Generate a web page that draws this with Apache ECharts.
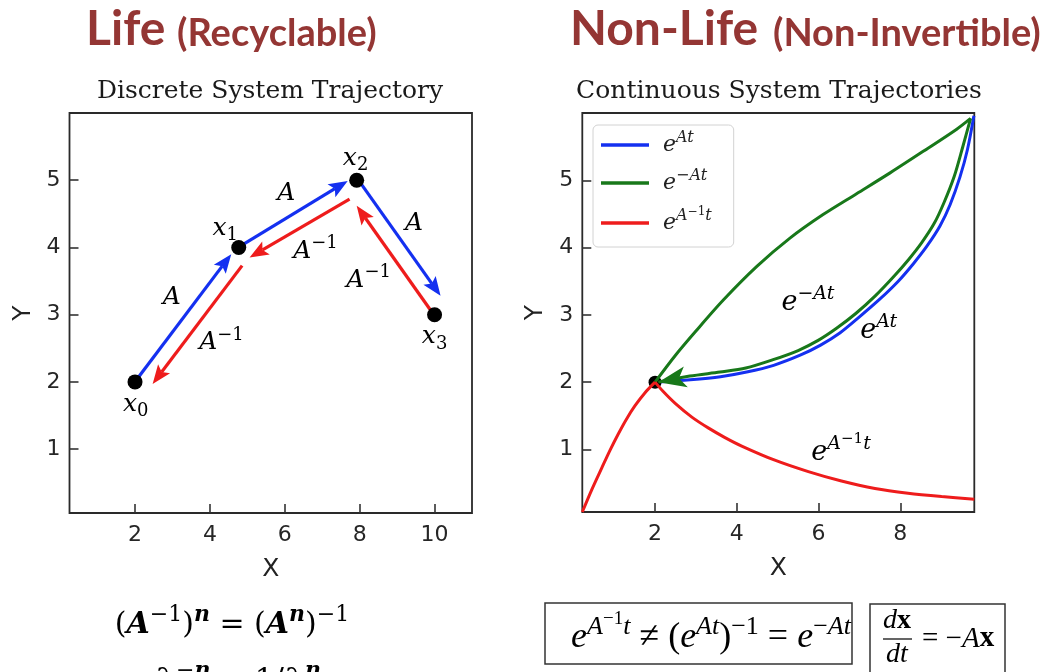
<!DOCTYPE html>
<html>
<head>
<meta charset="utf-8">
<script src="https://cdn.jsdelivr.net/npm/echarts@6/dist/echarts.min.js"></script>
<style>
  html, body { margin: 0; padding: 0; background: #fff; }
  #main { width: 1051px; height: 672px; }
</style>
</head>
<body>
<div id="main"></div>
<script>
// ---------- Discrete system: states x0..x3 ----------
const stateX = [2.0, 4.77, 7.92, 10.0];
const stateY = [2.0, 4.0, 5.0, 3.0];
// forward steps (A) and backward steps (A^-1): [fromX, fromY, toX, toY]
const forwardSteps = [
  [2.09, 2.07, 4.57, 3.90],
  [4.90, 4.05, 7.68, 4.99],
  [8.02, 4.96, 10.16, 3.28]
];
const backwardSteps = [
  [4.86, 3.73, 2.47, 1.97],
  [7.73, 4.72, 5.06, 3.85],
  [9.89, 3.07, 7.92, 4.62]
];
// annotation anchors on the discrete plot
const discreteLabelX = [2.98, 4.31, 6.04, 6.82, 9.45, 8.24, 2.02, 4.41, 7.89, 10.0];
const discreteLabelY = [3.26, 2.58, 4.80, 3.94, 4.35, 3.51, 1.66, 4.28, 5.32, 2.67];
const discreteLabelText = [
  '{i|A}', '{i|A}{su|−1}', '{i|A}', '{i|A}{su|−1}', '{i|A}', '{i|A}{su|−1}',
  '{i|x}{sub|0}', '{i|x}{sub|1}', '{i|x}{sub|2}', '{i|x}{sub|3}'
];
const discreteLabelColor = ['#2c3a85', '#262626', '#2c3a85', '#262626', '#2c3a85', '#262626',
  '#111', '#111', '#111', '#111'];

// ---------- Continuous system trajectories ----------
const expAtX = [2.0, 2.86, 3.6, 4.24, 4.9, 5.55, 6.05, 6.52, 7.0, 7.51, 7.95, 8.32, 8.65, 8.97, 9.22, 9.46, 9.64, 9.80];
const expAtY = [2.0, 2.035, 2.08, 2.15, 2.25, 2.40, 2.55, 2.73, 2.97, 3.24, 3.50, 3.76, 4.02, 4.32, 4.64, 5.05, 5.45, 5.96];
const expNegUpperX = [2.0, 2.5, 3.0, 3.67, 4.49, 5.30, 6.11, 6.93, 7.75, 8.56, 9.38, 9.72];
const expNegUpperY = [2.0, 2.40, 2.76, 3.22, 3.72, 4.14, 4.49, 4.80, 5.11, 5.43, 5.76, 5.92];
const expNegLowerX = [9.72, 9.52, 9.32, 9.07, 8.83, 8.52, 8.20, 7.84, 7.40, 6.91, 6.44, 5.99, 5.50, 4.87, 4.22, 3.59, 2.85, 2.08];
const expNegLowerY = [5.92, 5.48, 5.06, 4.67, 4.36, 4.07, 3.82, 3.57, 3.29, 3.02, 2.80, 2.62, 2.47, 2.33, 2.21, 2.15, 2.09, 2.00];
const expInvRiseX = [0.22, 0.45, 0.70, 0.90, 1.10, 1.30, 1.51, 1.75, 2.0];
const expInvRiseY = [0.07, 0.40, 0.73, 0.99, 1.23, 1.45, 1.65, 1.84, 2.0];
const expInvDecayX = [2.0, 2.2, 2.5, 2.9, 3.3, 3.7, 4.12, 4.93, 5.75, 6.56, 7.38, 8.19, 9.01, 9.81];
const expInvDecayY = [2.0, 1.86, 1.68, 1.48, 1.32, 1.18, 1.05, 0.84, 0.67, 0.53, 0.42, 0.35, 0.30, 0.26];
const startPoint = [2.0, 2.0];
// annotation anchors on the continuous plot
const curveLabelX = [5.74, 7.47, 6.55];
const curveLabelY = [3.18, 2.76, 0.95];
const curveLabelText = ['{i|e}{su|−}{si|At}', '{i|e}{si|At}', '{i|e}{si|A}{ssu|−1}{si|t}'];
const curveLabelColor = ['#1d6a1d', '#2a3590', '#8a1f1f'];

// ---------- axes ----------
const leftXTicks = [2, 4, 6, 8, 10];
const leftYTicks = [1, 2, 3, 4, 5];
const rightXTicks = [2, 4, 6, 8];
const rightYTicks = [1, 2, 3, 4, 5];

const seriesNames = ['e^{At}', 'e^{-At}', 'e^{A^{-1}t}'];
const legendText = {
  'e^{At}': '{i|e}{si|At}',
  'e^{-At}': '{i|e}{su|−}{si|At}',
  'e^{A^{-1}t}': '{i|e}{si|A}{ssu|−1}{si|t}'
};

const BLUE = '#1430f0', GREEN = '#18781a', RED = '#ee1c1c';
const SERIF = 'DejaVu Serif';
const SANS = 'DejaVu Sans';

// rich-text styles for math: base, superscript, second-level superscript, subscript
function mathStyles(F, color, family, lh) {
  family = family || SERIF;
  lh = lh || Math.round(F * 1.7);
  const s = Math.round(F * 0.72), ss = Math.round(F * 0.54);
  const common = { color: color, verticalAlign: 'middle', lineHeight: lh, fontFamily: family };
  return {
    i:   Object.assign({}, common, { fontSize: F, fontStyle: 'italic' }),
    u:   Object.assign({}, common, { fontSize: F, fontStyle: 'normal' }),
    b:   Object.assign({}, common, { fontSize: F, fontWeight: 'bold' }),
    bi:  Object.assign({}, common, { fontSize: F, fontWeight: 'bold', fontStyle: 'italic' }),
    si:  Object.assign({}, common, { fontSize: s, fontStyle: 'italic', padding: [0, 0, Math.round(F * 0.62), 0] }),
    su:  Object.assign({}, common, { fontSize: s, padding: [0, 0, Math.round(F * 0.62), 0] }),
    sbi: Object.assign({}, common, { fontSize: s, fontWeight: 'bold', fontStyle: 'italic', padding: [0, 0, Math.round(F * 0.62), 0] }),
    ssu: Object.assign({}, common, { fontSize: ss, padding: [0, 0, Math.round(F * 1.02), 0] }),
    sub: Object.assign({}, common, { fontSize: s, padding: [Math.round(F * 0.55), 0, 0, 0] })
  };
}

function pairs(xs, ys) { return xs.map((x, k) => [x, ys[k]]); }

// line with a stealth arrowhead, endpoints converted through the axes
function arrowRenderer(color, lineWidth, headLen, headHalf, notch, headOnly) {
  return function (params, api) {
    const a = api.coord([api.value(0), api.value(1)]);
    const b = api.coord([api.value(2), api.value(3)]);
    const dx = b[0] - a[0], dy = b[1] - a[1];
    const len = Math.hypot(dx, dy);
    const ux = dx / len, uy = dy / len;
    const nx = -uy, ny = ux;
    const bx = b[0] - ux * headLen, by = b[1] - uy * headLen;
    const kx = b[0] - ux * (headLen - notch), ky = b[1] - uy * (headLen - notch);
    const children = [];
    if (!headOnly) {
      children.push({ type: 'line', shape: { x1: a[0], y1: a[1], x2: kx, y2: ky },
        style: { stroke: color, lineWidth: lineWidth, lineCap: 'butt' } });
    }
    children.push({ type: 'polygon',
      shape: { points: [[b[0], b[1]], [bx + nx * headHalf, by + ny * headHalf], [kx, ky], [bx - nx * headHalf, by - ny * headHalf]] },
      style: { fill: color } });
    return { type: 'group', children: children };
  };
}

function textRenderer(texts, colors, size) {
  return function (params, api) {
    const p = api.coord([api.value(0), api.value(1)]);
    const k = params.dataIndex;
    return { type: 'text', x: p[0], y: p[1],
      style: { text: texts[k], rich: mathStyles(size, colors[k]), align: 'center', verticalAlign: 'middle' } };
  };
}

function makeXAxis(idx, min, max, ticks) {
  return {
    type: 'value', gridIndex: idx, min: min, max: max,
    name: 'X', nameLocation: 'middle', nameGap: 44,
    nameTextStyle: { fontFamily: SANS, fontSize: 25, color: '#222' },
    axisLine: { show: false }, splitLine: { show: false },
    axisTick: { show: true, inside: true, length: 9, lineStyle: { color: '#333', width: 1.6 }, customValues: ticks },
    axisLabel: { fontFamily: SANS, fontSize: 22, color: '#262626', margin: 11, customValues: ticks }
  };
}
function makeYAxis(idx, min, max, ticks) {
  return {
    type: 'value', gridIndex: idx, min: min, max: max,
    name: 'Y', nameLocation: 'middle', nameGap: 34,
    nameTextStyle: { fontFamily: SANS, fontSize: 25, color: '#222' },
    axisLine: { show: false }, splitLine: { show: false },
    axisTick: { show: true, inside: true, length: 9, lineStyle: { color: '#333', width: 1.6 }, customValues: ticks },
    axisLabel: { fontFamily: SANS, fontSize: 22, color: '#262626', margin: 9, customValues: ticks }
  };
}

const chart = echarts.init(document.getElementById('main'), null, { renderer: 'canvas' });

const titleColor = '#943634';
const curveLine = (name, xs, ys, color, smooth, z) => ({
  type: 'line', name: name, xAxisIndex: 1, yAxisIndex: 1, z: z,
  smooth: smooth, symbol: 'none',
  lineStyle: { color: color, width: 3 }, itemStyle: { color: color },
  data: pairs(xs, ys)
});

const option = {
  animation: false,
  backgroundColor: '#fff',
  grid: [
    { left: 69.5, top: 113, width: 402.5, height: 400, show: true, borderColor: '#2a2a2a', borderWidth: 1.8, outerBoundsMode: 'none' },
    { left: 582.3, top: 113, width: 392, height: 399, show: true, borderColor: '#2a2a2a', borderWidth: 1.8, outerBoundsMode: 'none' }
  ],
  xAxis: [makeXAxis(0, 0.25, 11.0, leftXTicks), makeXAxis(1, 0.22, 9.81, rightXTicks)],
  yAxis: [makeYAxis(0, 0.05, 6.0, leftYTicks), makeYAxis(1, 0.07, 6.0, rightYTicks)],
  legend: {
    show: true,
    data: seriesNames,
    orient: 'vertical',
    left: 593, top: 125,
    padding: [5, 22, 7, 8],
    itemGap: 8,
    itemWidth: 48, itemHeight: 3.5,
    icon: 'rect',
    selectedMode: false,
    backgroundColor: '#fff',
    borderColor: '#d2d2d2', borderWidth: 1, borderRadius: 5,
    formatter: function (name) { return legendText[name]; },
    textStyle: { padding: [0, 0, 0, 9], rich: mathStyles(22, '#222', SERIF, 30) }
  },
  series: [
    // ----- discrete plot -----
    { type: 'custom', name: 'forward', xAxisIndex: 0, yAxisIndex: 0, z: 3,
      renderItem: arrowRenderer(BLUE, 3.2, 19, 7.5, 4, false), data: forwardSteps },
    { type: 'custom', name: 'backward', xAxisIndex: 0, yAxisIndex: 0, z: 3,
      renderItem: arrowRenderer(RED, 3.2, 19, 7.5, 4, false), data: backwardSteps },
    { type: 'scatter', name: 'states', xAxisIndex: 0, yAxisIndex: 0, z: 5,
      symbol: 'circle', symbolSize: 15, itemStyle: { color: '#000', opacity: 1 },
      data: pairs(stateX, stateY) },
    { type: 'custom', name: 'discrete labels', xAxisIndex: 0, yAxisIndex: 0, z: 6,
      renderItem: textRenderer(discreteLabelText, discreteLabelColor, 25),
      data: pairs(discreteLabelX, discreteLabelY) },

    // ----- continuous plot -----
    curveLine(seriesNames[0], expAtX, expAtY, BLUE, 0.3, 3),
    { type: 'scatter', name: 'start', xAxisIndex: 1, yAxisIndex: 1, z: 3,
      symbol: 'circle', symbolSize: 13, itemStyle: { color: '#000', opacity: 1 }, data: [startPoint] },
    curveLine(seriesNames[1], expNegUpperX, expNegUpperY, GREEN, 0.3, 4),
    curveLine(seriesNames[1], expNegLowerX, expNegLowerY, GREEN, 0.3, 4),
    curveLine(seriesNames[2], expInvRiseX, expInvRiseY, RED, 0.3, 4),
    curveLine(seriesNames[2], expInvDecayX, expInvDecayY, RED, 0.3, 4),
    { type: 'custom', name: 'reverse head', xAxisIndex: 1, yAxisIndex: 1, z: 5,
      renderItem: arrowRenderer(GREEN, 3, 28, 10.5, 7, true),
      data: [[expNegLowerX[expNegLowerX.length - 2], expNegLowerY[expNegLowerY.length - 2],
              expNegLowerX[expNegLowerX.length - 1], expNegLowerY[expNegLowerY.length - 1]]] },
    { type: 'custom', name: 'curve labels', xAxisIndex: 1, yAxisIndex: 1, z: 6,
      renderItem: textRenderer(curveLabelText, curveLabelColor, 27),
      data: pairs(curveLabelX, curveLabelY) }
  ],
  graphic: [
    // panel headings
    { type: 'text', x: 86, y: 30, style: { text: 'Life', fontFamily: 'Lato', fontWeight: 'bold', fontSize: 48, fill: titleColor, verticalAlign: 'middle' } },
    { type: 'text', x: 177, y: 34, style: { text: '(Recyclable)', fontFamily: 'Lato', fontWeight: 'bold', fontSize: 38, fill: titleColor, verticalAlign: 'middle' } },
    { type: 'text', x: 570, y: 30, style: { text: 'Non-Life', fontFamily: 'Lato', fontWeight: 'bold', fontSize: 48, fill: titleColor, verticalAlign: 'middle' } },
    { type: 'text', x: 773, y: 34, style: { text: '(Non-Invertible)', fontFamily: 'Lato', fontWeight: 'bold', fontSize: 38, fill: titleColor, verticalAlign: 'middle' } },
    // plot titles
    { type: 'text', x: 270, y: 91, style: { text: 'Discrete System Trajectory', fontFamily: SERIF, fontSize: 25, fill: '#1a1a1a', align: 'center', verticalAlign: 'middle' } },
    { type: 'text', x: 779, y: 91, style: { text: 'Continuous System Trajectories', fontFamily: SERIF, fontSize: 25, fill: '#1a1a1a', align: 'center', verticalAlign: 'middle' } },
    // identities under the discrete plot
    { type: 'text', x: 232, y: 625, style: { text: '{u|(}{bi|A}{su|−1}{u|)}{sbi|n}{u| = (}{bi|A}{sbi|n}{u|)}{su|−1}',
        rich: mathStyles(30, '#111'), align: 'center', verticalAlign: 'middle' } },
    { type: 'text', x: 238, y: 681, style: { text: '{bi|λ}{su|−}{sbi|n}{u| = 1/}{bi|λ}{sbi|n}',
        rich: mathStyles(30, '#111'), align: 'center', verticalAlign: 'middle' } },
    // boxed relations under the continuous plot
    { type: 'rect', shape: { x: 545, y: 603, width: 307, height: 61 }, style: { fill: 'none', stroke: '#333', lineWidth: 1.5 } },
    { type: 'text', x: 711, y: 638, style: { text: '{i|e}{si|A}{ssu|−1}{si|t}{u| ≠ (}{i|e}{si|At}{u|)}{su|−1}{u| = }{i|e}{su|−}{si|At}',
        rich: mathStyles(36, '#111', 'Liberation Serif'), align: 'center', verticalAlign: 'middle' } },
    { type: 'rect', shape: { x: 870, y: 604, width: 135, height: 70 }, style: { fill: 'none', stroke: '#333', lineWidth: 1.5 } },
    { type: 'text', x: 897, y: 621, style: { text: '{i|d}{b|x}', rich: mathStyles(28, '#111', 'Liberation Serif'), align: 'center', verticalAlign: 'middle' } },
    { type: 'line', shape: { x1: 883, y1: 639, x2: 912, y2: 639 }, style: { stroke: '#111', lineWidth: 1.3 } },
    { type: 'text', x: 897, y: 655, style: { text: '{i|dt}', rich: mathStyles(28, '#111', 'Liberation Serif'), align: 'center', verticalAlign: 'middle' } },
    { type: 'text', x: 922, y: 639, style: { text: '{u|= −}{i|A}{b|x}', rich: mathStyles(29, '#111', 'Liberation Serif'), align: 'left', verticalAlign: 'middle' } }
  ]
};

chart.setOption(option);
</script>
</body>
</html>
